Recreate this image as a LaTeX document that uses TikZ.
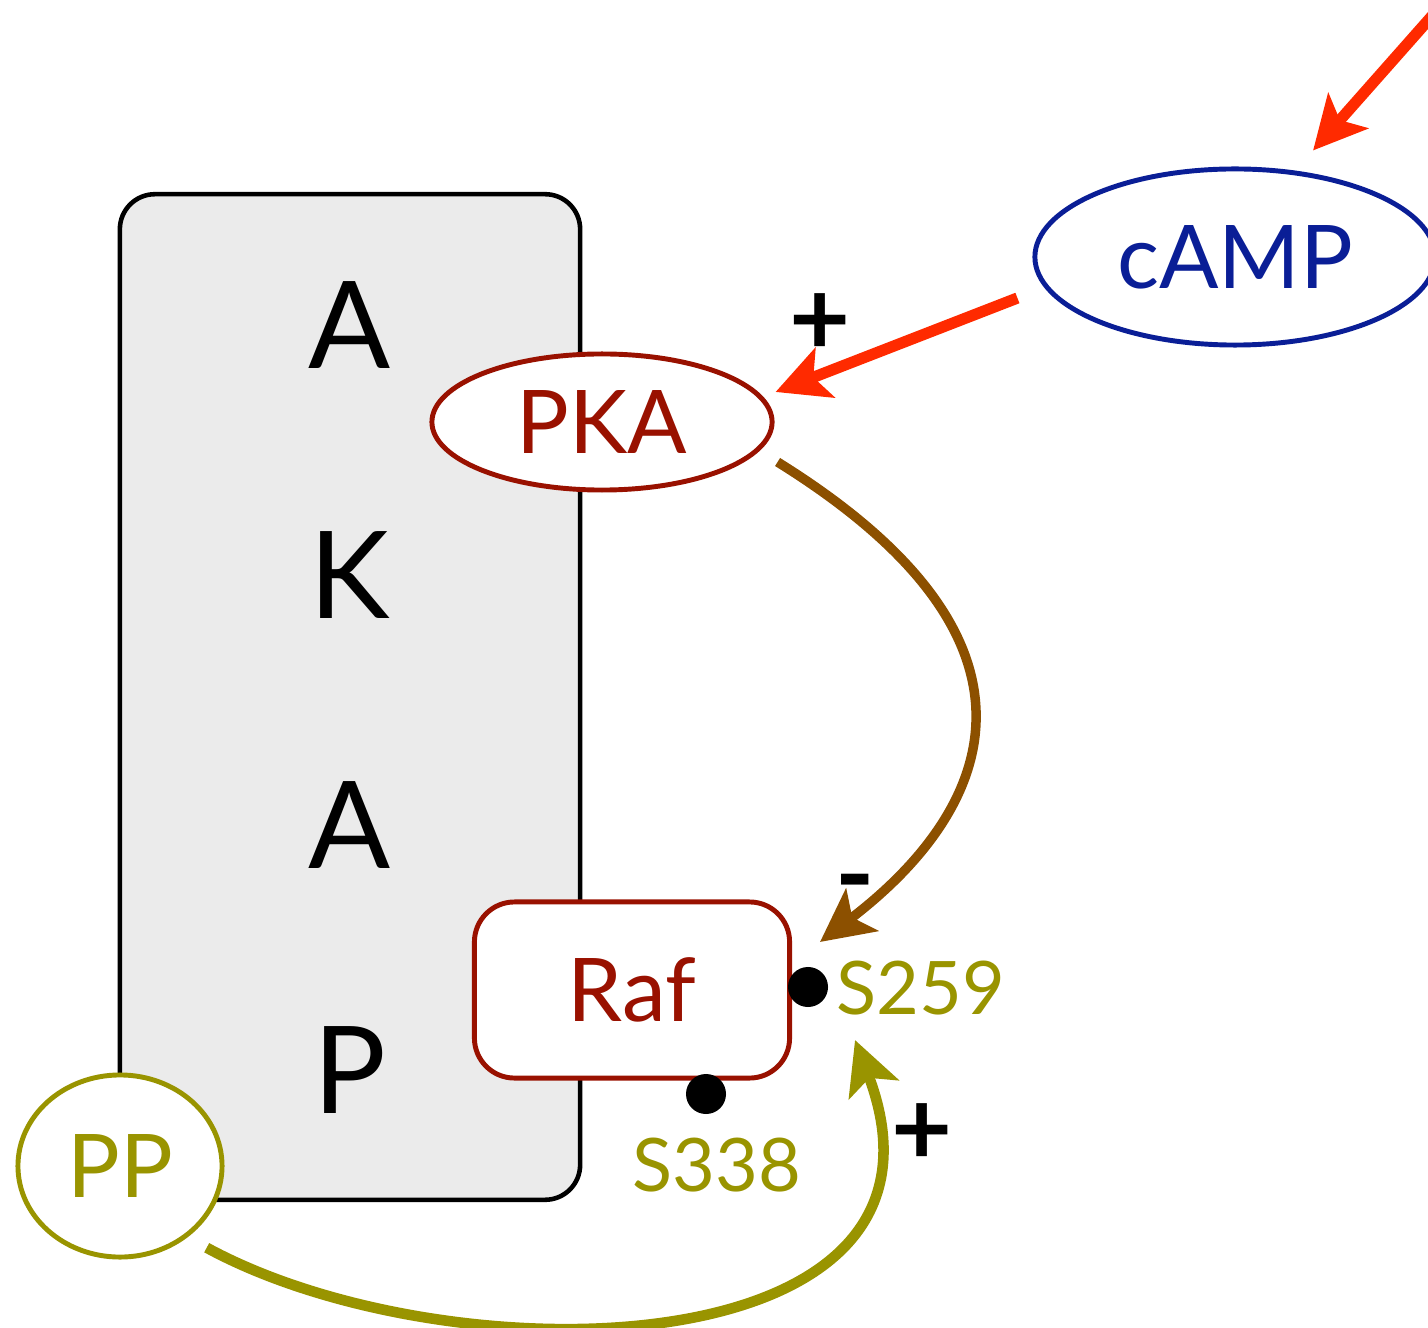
\documentclass[tikz,border=0pt]{standalone}
\usepackage{fontspec}
\setmainfont{Lato}
\usetikzlibrary{arrows.meta,shapes.geometric}

\definecolor{pkared}{RGB}{153,17,0}
\definecolor{campblue}{RGB}{10,30,150}
\definecolor{ppolive}{RGB}{153,148,0}
\definecolor{actred}{RGB}{255,42,0}
\definecolor{inhbrown}{RGB}{140,80,0}
\definecolor{akapgray}{RGB}{235,235,235}

\tikzset{
  protein/.style={ellipse, draw, line width=1.4pt, fill=white, inner sep=0pt,
    font=\fontsize{25}{25}\selectfont},
  bigarrow/.style={line width=3.2pt, -{Stealth[length=15pt,width=15pt,inset=3.5pt]}},
  site/.style={circle, fill=black, inner sep=0pt, minimum size=0.4cm},
  sitelabel/.style={text=ppolive, font=\fontsize{21}{21}\selectfont},
  sign/.style={font=\fontsize{30}{30}\selectfont\bfseries},
}

\begin{document}
\begin{tikzpicture}[x=0.01cm,y=-0.01cm]
    \useasboundingbox (0,0) rectangle (1428,1328);
    \clip (0,0) rectangle (1428,1328);

    % scaffold with its letters
    \node[draw=black, line width=1.3pt, fill=akapgray, rounded corners=0.35cm,
      minimum width=4.6cm, minimum height=10.05cm] (akap) at (350,697) {};
    \foreach \l/\y [count=\i] in {A/325,K/575,A/825,P/1070}
        \node[font=\fontsize{34.5}{34.5}\selectfont] (akap\i) at (350,\y) {\l};

    % proteins
    \node[protein, draw=pkared, text=pkared, minimum width=3.4cm, minimum height=1.36cm] (pka) at (602,422) {PKA};
    \node[protein, draw=campblue, text=campblue, minimum width=4.0cm, minimum height=1.76cm] (camp) at (1235,257) {cAMP};
    \node[draw=pkared, text=pkared, line width=1.4pt, fill=white, rounded corners=0.4cm,
      minimum width=3.15cm, minimum height=1.76cm, font=\fontsize{25}{25}\selectfont] (raf) at (632,990) {Raf};
    \node[protein, draw=ppolive, text=ppolive, minimum width=2.04cm, minimum height=1.82cm] (pp) at (120,1166) {PP};

    % phosphorylation sites
    \node[site] (s259) at (808,987) {};
    \node[site] (s338) at (706,1094) {};
    \node[sitelabel] (s259lab) at (921,988) {S259};
    \node[sitelabel] (s338lab) at (717,1165) {S338};

    % signs
    \node[sign] (plus1) at (820,325) {+};
    \node[sign] (minus) at (855,893) {-};
    \node[sign] (plus2) at (922,1135) {+};

    % arrows
    \coordinate (src) at (1455,-10);
    \draw[bigarrow, actred] (src) -- ([xshift=0.78cm,yshift=0.16cm]camp.north);
    \draw[bigarrow, actred] ([xshift=-0.15cm,yshift=-0.41cm]camp.west) -- ([xshift=0.01cm,yshift=0.3cm]pka.east);
    \draw[bigarrow, inhbrown, line width=2.7pt] ([xshift=0.03cm,yshift=-0.4cm]pka.east)
        .. controls (1080,650) and (980,820) .. ([xshift=0.12cm,yshift=0.45cm]s259.center);
    \draw[bigarrow, ppolive, line width=3pt] ([xshift=0.17cm,yshift=-0.12cm]pp.-45)
        .. controls (450,1380) and (980,1370) .. ([xshift=0.47cm,yshift=-0.53cm]s259.center);
\end{tikzpicture}
\end{document}
